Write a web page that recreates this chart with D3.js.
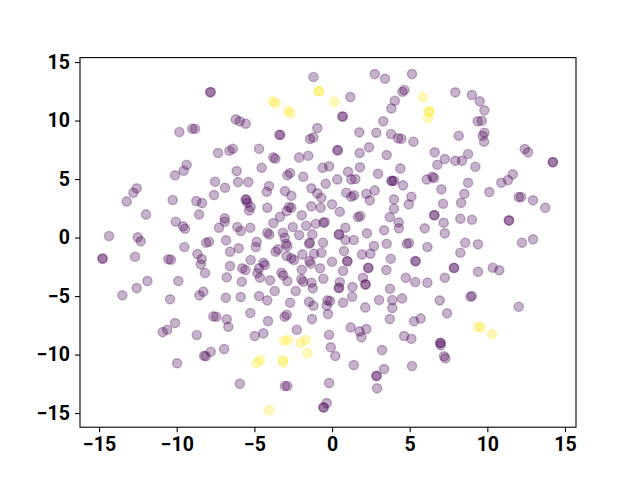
<!DOCTYPE html>
<html>
<head>
<meta charset="utf-8">
<script src="https://cdn.jsdelivr.net/npm/d3@7"></script>
<style>
  body { margin: 0; background: #fff; }
  .tick text { font-family: Roboto, "DejaVu Sans", sans-serif; font-weight: bold; }
</style>
</head>
<body>
<div id="chart"></div>
<script>
// label 0 points (purple)
const class0 = [
  [-9.83, 9.02], [-9.0, 9.3], [-8.82, 9.3], [-9.36, 6.22], [-9.55, 5.71], [-10.11, 5.32],
  [-7.86, 12.41], [-7.80, 12.43], [-1.2, 13.72], [-6.2, 10.1], [-5.94, 9.93], [-5.56, 9.73],
  [-0.95, 9.36], [-3.39, 8.79], [-3.33, 8.77], [-1.42, 8.42], [-1.2, 8.56], [-7.34, 7.22],
  [-6.61, 7.42], [-6.39, 7.59], [-4.7, 7.59], [-3.78, 6.85], [-3.65, 6.74], [-2.12, 6.85],
  [-1.53, 6.99], [-6.14, 5.68], [-4.53, 5.97], [-2.7, 5.51], [-2.88, 5.32], [-1.85, 5.2],
  [-0.6, 5.97], [-0.19, 6.09],
  [2.75, 13.97], [3.41, 13.57], [5.15, 13.97], [1.18, 12.01], [4.66, 12.61], [4.53, 12.46],
  [4.04, 11.69], [3.82, 11.04], [0.66, 10.36], [0.70, 10.33], [3.3, 9.93], [1.76, 8.99],
  [2.85, 8.96], [3.8, 8.85], [4.25, 8.48], [4.46, 8.44], [5.24, 8.19], [0.34, 7.48],
  [0.38, 7.45], [2.38, 7.71], [1.78, 7.22], [3.52, 7.05], [6.61, 7.28], [7.26, 6.71],
  [6.78, 6.22], [1.03, 5.62], [1.8, 6.0], [4.4, 5.91], [2.96, 5.45], [0.34, 4.97],
  [1.24, 4.97], [1.5, 5.0], [3.82, 4.85], [3.87, 4.83], [3.99, 4.85], [6.1, 4.97],
  [6.46, 5.2], [6.57, 5.09],
  [7.94, 12.41], [9.01, 12.18], [9.51, 11.64], [9.81, 10.87], [9.38, 9.93], [9.64, 9.98],
  [8.16, 8.7], [9.81, 8.96], [9.7, 8.7], [9.79, 8.19], [12.41, 7.56], [12.62, 7.28],
  [14.21, 6.45], [14.23, 6.43], [8.76, 7.14], [7.94, 6.56], [8.37, 6.56], [9.23, 6.05],
  [11.64, 5.4],
  [-12.58, 4.21], [-12.79, 3.83], [-13.22, 3.09], [-10.26, 3.21], [-8.74, 3.12], [-8.37, 2.95],
  [-11.98, 1.98], [-8.56, 1.98], [-10.06, 1.35], [-9.59, 0.96], [-9.47, 0.75], [-14.36, 0.13],
  [-12.51, 0.02], [-12.32, -0.32], [-9.51, -0.81], [-14.79, -1.81], [-14.77, -1.79],
  [-12.69, -1.64], [-10.54, -1.86], [-10.37, -1.9], [-8.67, -1.41], [-8.39, -1.84],
  [-8.45, -2.29], [-8.11, -0.44], [-8.18, -3.03], [-11.89, -3.72], [-12.58, -4.32],
  [-13.5, -4.94], [-9.9, -3.72], [-10.43, -5.28], [-8.54, -4.94], [-8.29, -4.63],
  [-7.53, 4.77], [-6.89, 4.26], [-6.05, 4.74], [-5.39, 4.74], [-4.06, 4.4], [-4.2, 3.91],
  [-3.03, 3.97], [-2.62, 3.57], [-1.33, 4.21], [-0.41, 4.6], [-0.95, 3.78], [-0.69, 3.4],
  [-7.6, 3.63], [-5.56, 3.26], [-5.52, 3.22], [-5.45, 2.97], [-5.24, 2.61], [-5.34, 2.32],
  [-4.17, 2.55], [-2.77, 2.61], [-2.62, 2.55], [-2.92, 2.26], [-1.33, 2.67], [-0.73, 2.55],
  [-6.91, 1.64], [-6.91, 1.35], [-7.28, 0.84], [-3.35, 1.78], [-3.78, 1.24], [-1.95, 1.9],
  [-2.53, 0.9], [-1.05, 1.18], [-0.56, 1.26], [-0.47, 1.32], [-1.67, 1.01], [-6.1, 0.9],
  [-5.88, 0.56], [-5.26, 0.84], [-4.17, 0.41], [-4.04, 0.27], [-3.16, 0.41], [-3.05, -0.02],
  [-2.12, 0.21], [-1.27, 0.27], [-7.92, -0.36], [-6.83, -0.24], [-4.85, -0.36], [-4.91, -0.81],
  [-2.96, -0.53], [-2.88, -0.73], [-1.48, -0.53], [-1.42, -0.44], [-0.58, -0.44],
  [-6.57, -1.21], [-6.01, -0.92], [-3.63, -1.21], [-3.48, -1.01], [-2.92, -1.58],
  [-2.62, -1.78], [-2.45, -1.92], [-1.91, -1.44], [-1.16, -1.38], [-0.69, -1.3],
  [-1.46, -2.01], [-1.37, -2.24], [-5.24, -1.92], [-4.42, -2.15], [-4.33, -2.35],
  [-4.7, -2.63], [-4.81, -3.03], [-6.57, -2.44], [-5.78, -2.63], [-5.58, -2.78],
  [-3.26, -3.01], [-3.14, -3.23], [-1.95, -2.75], [-0.77, -2.63], [-0.56, -3.52],
  [-6.78, -3.4], [-4.64, -3.44], [-5.81, -3.78], [-1.98, -3.57], [-1.85, -3.78],
  [-1.33, -3.86], [-1.24, -4.34], [-3.99, -3.66], [-2.88, -3.72], [-3.69, -4.57],
  [-2.34, -4.57], [-4.7, -5.0], [-5.88, -5.09], [-6.84, -5.15], [-4.17, -5.37],
  [-2.7, -5.57], [-1.48, -5.49], [-0.3, -5.37],
  [4.57, 4.46], [7.04, 4.12], [0.92, 3.83], [1.24, 3.49], [1.42, 3.61], [2.21, 3.74],
  [2.43, 3.18], [2.75, 4.03], [3.99, 3.26], [5.11, 3.49], [4.94, 2.84], [7.15, 2.89],
  [0.0, 2.84], [0.5, 2.21], [3.99, 2.46], [3.72, 1.75], [1.67, 1.75], [1.82, 1.84],
  [6.57, 1.92], [6.60, 1.90], [7.19, 1.26], [4.29, 1.3], [4.31, 0.79], [0.86, 0.84],
  [5.97, 0.79], [7.26, 0.36], [0.43, 0.27], [0.46, 0.25], [0.86, -0.21], [1.4, -0.21],
  [2.25, 0.36], [3.35, 0.62], [2.7, -0.73], [3.52, -0.53], [4.81, -0.53], [4.96, -0.47],
  [6.14, -0.81], [0.77, -1.15], [1.93, -1.44], [2.47, -1.38], [3.78, -1.81], [0.0, -2.07],
  [0.97, -2.01], [1.0, -2.03], [5.36, -2.01], [5.39, -2.03], [2.32, -2.58], [2.35, -2.6],
  [3.5, -2.78], [0.71, -2.86], [7.84, -2.58], [7.87, -2.6], [2.0, -3.44], [4.75, -3.44],
  [5.36, -3.8], [6.14, -3.86], [7.26, -3.44], [0.5, -3.8], [0.43, -4.29], [0.46, -4.31],
  [2.14, -4.0], [2.17, -4.02], [1.31, -4.23], [3.73, -4.38], [1.29, -5.06], [3.03, -5.34],
  [3.88, -5.34], [4.51, -5.2], [6.93, -5.37], [-0.13, -5.43], [0.71, -5.57],
  [8.76, 4.68], [10.9, 4.68], [11.33, 4.91], [8.52, 3.74], [8.31, 2.97], [10.13, 3.89],
  [12.02, 3.46], [12.17, 3.46], [12.94, 3.18], [13.73, 2.55], [8.26, 1.61], [9.01, 1.52],
  [11.38, 1.47], [11.41, 1.45], [8.58, -0.44], [9.4, -0.58], [8.26, -1.3], [12.23, -0.44],
  [12.94, -0.15], [9.4, -2.92], [10.35, -2.58], [10.77, -2.8], [8.91, -5.06], [9.01, -5.0],
  [12.02, -5.91],
  [-10.11, -7.31], [-10.61, -7.88], [-10.9, -8.08], [-8.71, -8.33], [-8.24, -10.1],
  [-9.98, -10.75],
  [-1.2, -5.83], [-0.34, -5.83], [-0.26, -6.54], [-7.64, -6.74], [-7.45, -6.77],
  [-6.78, -6.99], [-6.68, -7.62], [-5.26, -6.45], [-4.12, -7.14], [-3.05, -6.77],
  [-2.92, -6.6], [-1.29, -6.97], [-2.27, -7.88], [-4.98, -8.42], [-4.42, -8.19],
  [-0.19, -8.31], [-6.95, -9.53], [-7.81, -9.76], [-8.13, -10.15], [-5.94, -12.5],
  [-3.03, -12.69], [-2.88, -12.69], [-0.19, -12.44], [-0.56, -14.51], [-0.53, -14.53],
  [-0.34, -14.15],
  [2.14, -5.97], [3.88, -6.03], [7.41, -6.48], [3.72, -6.97], [5.28, -7.16], [5.71, -6.91],
  [1.2, -7.68], [1.78, -8.02], [1.89, -8.53], [2.21, -7.82], [4.64, -8.42], [5.11, -8.65],
  [6.97, -9.02], [6.99, -9.0], [7.0, -9.21], [7.21, -10.15], [7.3, -10.32], [-0.08, -9.38],
  [0.21, -10.13], [3.22, -9.62], [1.4, -10.9], [3.35, -11.24], [5.15, -10.98],
  [2.85, -11.84], [2.88, -11.82], [2.9, -12.89]
];

// label 1 points (yellow)
const class1 = [
  [-0.86, 12.52], [-0.83, 12.5], [-3.8, 11.64], [-3.63, 11.47], [-2.81, 10.84], [-2.7, 10.62],
  [0.17, 11.61], [5.86, 11.98], [6.25, 10.79], [6.28, 10.77], [6.18, 10.19],
  [-3.09, -8.82], [-2.83, -8.76], [-2.02, -8.99], [-1.69, -8.76], [-1.59, -9.87],
  [-4.64, -10.47], [-4.85, -10.75], [-3.17, -10.47], [-3.14, -10.67], [-4.06, -14.77],
  [9.4, -7.62], [9.58, -7.68], [10.3, -8.27]
];

const xTicks = [-15, -10, -5, 0, 5, 10, 15];
const yTicks = [-15, -10, -5, 0, 5, 10, 15];
const colors = ["#440154", "#fde725"];

const width = 640, height = 480;
const margin = { top: 57.6, right: 64, bottom: 52.8, left: 80 };

const svg = d3.select("#chart").append("svg")
  .attr("width", width)
  .attr("height", height);

const x = d3.scaleLinear()
  .domain([-16.23, 15.71])
  .range([margin.left, width - margin.right]);

const y = d3.scaleLinear()
  .domain([-16.21, 15.38])
  .range([height - margin.bottom, margin.top]);

// points
const pts = class0.map(d => ({ x: d[0], y: d[1], c: 0 }))
  .concat(class1.map(d => ({ x: d[0], y: d[1], c: 1 })));

svg.append("g")
  .selectAll("circle")
  .data(pts)
  .enter().append("circle")
  .attr("cx", d => x(d.x))
  .attr("cy", d => y(d.y))
  .attr("r", 4.6)
  .style("fill", d => colors[d.c])
  .style("fill-opacity", 0.3)
  .style("stroke", d => colors[d.c])
  .style("stroke-opacity", 0.3)
  .style("stroke-width", 1.4);

// axes
const xAxis = d3.axisBottom(x).tickValues(xTicks).tickSize(5).tickPadding(5)
  .tickFormat(d => d < 0 ? "\u2212" + Math.abs(d) : d);
const yAxis = d3.axisLeft(y).tickValues(yTicks).tickSize(5).tickPadding(5)
  .tickFormat(d => d < 0 ? "\u2212" + Math.abs(d) : d);

const gx = svg.append("g")
  .attr("transform", `translate(0,${height - margin.bottom})`)
  .call(xAxis);
const gy = svg.append("g")
  .attr("transform", `translate(${margin.left},0)`)
  .call(yAxis);

[gx, gy].forEach(g => {
  g.select(".domain").remove();
  g.selectAll(".tick line").attr("stroke", "#000").attr("stroke-width", 1.1);
  g.selectAll(".tick text").attr("fill", "#000").style("font-size", "19.5px");
});

// frame
svg.append("rect")
  .attr("x", margin.left)
  .attr("y", margin.top)
  .attr("width", width - margin.left - margin.right)
  .attr("height", height - margin.top - margin.bottom)
  .attr("fill", "none")
  .attr("stroke", "#000")
  .attr("stroke-width", 1.1);
</script>
</body>
</html>
